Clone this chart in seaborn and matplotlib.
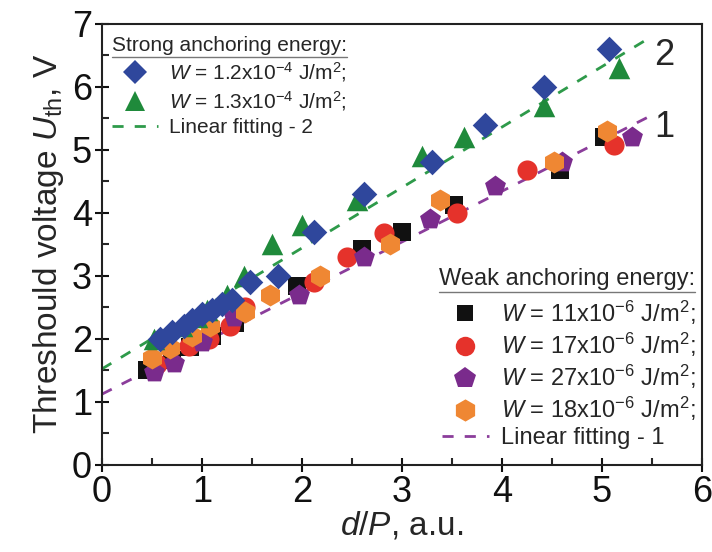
import matplotlib
matplotlib.use("Agg")
import matplotlib.pyplot as plt
import seaborn as sns
from matplotlib.lines import Line2D
from matplotlib.ticker import MultipleLocator

# strong anchoring
blue_x = [0.58, 0.7, 0.82, 0.9, 1.0, 1.1, 1.2, 1.3, 1.48, 1.76, 2.12, 2.62, 3.3, 3.83, 4.42, 5.07]
blue_y = [2.0, 2.1, 2.2, 2.3, 2.4, 2.45, 2.55, 2.62, 2.9, 3.0, 3.7, 4.3, 4.8, 5.4, 6.0, 6.6]
green_x = [0.52, 0.8, 0.95, 1.05, 1.25, 1.42, 1.7, 2.0, 2.55, 3.2, 3.62, 4.42, 5.17]
green_y = [2.0, 2.2, 2.35, 2.45, 2.7, 3.0, 3.5, 3.8, 4.2, 4.9, 5.2, 5.7, 6.3]

# weak anchoring
black_x = [0.45, 0.7, 0.88, 1.1, 1.33, 1.95, 2.6, 3.0, 3.52, 4.58, 5.02]
black_y = [1.5, 1.67, 1.87, 2.05, 2.25, 2.83, 3.42, 3.7, 4.12, 4.68, 5.2]
red_x = [0.55, 0.87, 1.07, 1.28, 1.43, 2.12, 2.45, 2.82, 3.55, 4.25, 5.12]
red_y = [1.6, 1.88, 2.0, 2.2, 2.5, 2.9, 3.3, 3.68, 4.0, 4.68, 5.08]
purple_x = [0.52, 0.72, 1.0, 1.32, 1.97, 2.62, 3.28, 3.93, 4.6, 5.3]
purple_y = [1.48, 1.62, 1.95, 2.35, 2.7, 3.3, 3.9, 4.42, 4.8, 5.2]
orange_x = [0.5, 0.68, 0.9, 1.08, 1.43, 1.68, 2.18, 2.88, 3.38, 4.52, 5.05]
orange_y = [1.7, 1.85, 2.05, 2.2, 2.42, 2.7, 3.0, 3.5, 4.2, 4.8, 5.3]

# fitting line end points
fit_x = [0.0, 5.5]
fit2_y = [1.52, 6.8]
fit1_y = [1.12, 5.55]

sns.set_style("ticks")
plt.rcParams['font.family'] = ['Liberation Sans', 'DejaVu Sans']
plt.rcParams['mathtext.fontset'] = 'custom'
plt.rcParams['mathtext.rm'] = 'Liberation Sans'
plt.rcParams['mathtext.it'] = 'Liberation Sans:italic'

fig = plt.figure(figsize=(7.12, 5.52), dpi=100)
ax = fig.add_axes([0.143, 0.158, 0.843, 0.799])

c_blue = "#2f479c"
c_green = "#1f8a3b"
c_black = "#111111"
c_red = "#e5322b"
c_purple = "#7a2b8c"
c_orange = "#ef8733"

sns.lineplot(x=fit_x, y=fit1_y, ax=ax, color="#8b3d9b", lw=2, dashes=(4, 4), zorder=1)
sns.lineplot(x=fit_x, y=fit2_y, ax=ax, color="#2e9a4a", lw=2, dashes=(4, 4), zorder=1)
sns.scatterplot(x=black_x, y=black_y, ax=ax, marker="s", s=165, color=c_black, linewidth=0, zorder=2)
sns.scatterplot(x=red_x, y=red_y, ax=ax, marker="o", s=210, color=c_red, linewidth=0, zorder=2)
sns.scatterplot(x=purple_x, y=purple_y, ax=ax, marker="p", s=250, color=c_purple, linewidth=0, zorder=2)
sns.scatterplot(x=orange_x, y=orange_y, ax=ax, marker="h", s=250, color=c_orange, linewidth=0, zorder=2)
sns.scatterplot(x=green_x, y=green_y, ax=ax, marker="^", s=240, color=c_green, linewidth=0, zorder=3)
sns.scatterplot(x=blue_x, y=blue_y, ax=ax, marker="D", s=170, color=c_blue, linewidth=0, zorder=3)

ax.set_xlim(0, 6)
ax.set_ylim(0, 7)
ax.xaxis.set_major_locator(MultipleLocator(1))
ax.xaxis.set_minor_locator(MultipleLocator(0.5))
ax.yaxis.set_major_locator(MultipleLocator(1))
ax.yaxis.set_minor_locator(MultipleLocator(0.5))
ax.tick_params(which="major", direction="inout", length=10, width=1.5, labelsize=26, colors="#111111", pad=2)
ax.tick_params(which="minor", direction="in", length=5, width=1.5)
for sp in ax.spines.values():
    sp.set_linewidth(1.5)
    sp.set_color("#222222")

ax.set_xlabel(r"$d/P$, a.u.", fontsize=24, labelpad=0)
ax.set_ylabel(r"Threshould voltage $U_{\rm th}$, V", fontsize=24, labelpad=4)

ax.text(5.52, 6.5, "2", fontsize=26, va="center", ha="left")
ax.text(5.52, 5.35, "1", fontsize=26, va="center", ha="left")

def mk(marker, color, ms):
    return Line2D([], [], marker=marker, color=color, ls="none", markersize=ms, markeredgewidth=0)

lab = lambda v: r"$\it{W}$ = " + v + r" J/m$^2$;"
h1 = [mk("D", c_blue, 12), mk("^", c_green, 15),
      Line2D([], [], color="#2e9a4a", lw=2, dashes=(4, 4))]
l1 = [lab(r"1.2x10$^{-4}$"), lab(r"1.3x10$^{-4}$"), "Linear fitting - 2"]
leg1 = ax.legend(h1, l1, title="Strong anchoring energy:", loc="upper left",
                 bbox_to_anchor=(-0.01, 1.01), frameon=False, fontsize=15, title_fontsize=15,
                 handlelength=2.2, handletextpad=0.5, labelspacing=0.25, borderpad=0.3,
                 alignment="left")
ax.add_artist(leg1)

h2 = [mk("s", c_black, 12), mk("o", c_red, 14), mk("p", c_purple, 16), mk("h", c_orange, 16),
      Line2D([], [], color="#8b3d9b", lw=2, dashes=(4, 4))]
l2 = [lab(r"11x10$^{-6}$"), lab(r"17x10$^{-6}$"), lab(r"27x10$^{-6}$"), lab(r"18x10$^{-6}$"),
      "Linear fitting - 1"]
leg2 = ax.legend(h2, l2, title="Weak anchoring energy:", loc="lower right",
                 bbox_to_anchor=(1.02, -0.008), frameon=False, fontsize=17, title_fontsize=17,
                 handlelength=2.0, handletextpad=0.5, labelspacing=0.17, borderpad=0.3,
                 alignment="right")
leg2._legend_box.sep = 6

# underline the legend titles
fig.canvas.draw()
inv = fig.transFigure.inverted()
for lg in (leg1, leg2):
    bb = lg.get_title().get_window_extent()
    (x0, y0), (x1, _) = inv.transform([(bb.x0, bb.y0), (bb.x1, bb.y1)])
    fig.add_artist(Line2D([x0, x1], [y0 - 0.004, y0 - 0.004], transform=fig.transFigure,
                          color="#777777", lw=1))

fig.savefig("out.png", dpi=100)
